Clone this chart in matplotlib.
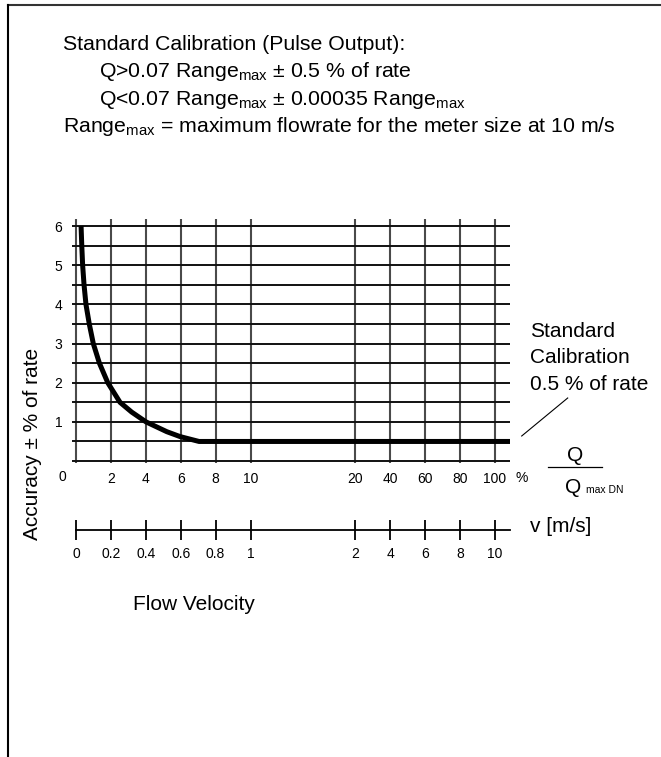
import numpy as np
import matplotlib
matplotlib.use("Agg")
import matplotlib.pyplot as plt
from matplotlib.lines import Line2D

plt.rcParams['font.family'] = ['Liberation Sans', 'DejaVu Sans']
plt.rcParams['mathtext.default'] = 'regular'

# ---------------- data ----------------
# accuracy curve: Q in % of Qmax DN, accuracy in ± % of rate
curve_q = [0.29, 0.33, 0.38, 0.46, 0.57, 0.76, 0.99, 1.34, 1.82, 2.52, 3.19, 4.01, 5.2, 5.96, 7.05, 108.7]
curve_acc = [6.0, 5.5, 5.0, 4.5, 4.0, 3.5, 3.0, 2.5, 2.0, 1.5, 1.25, 1.0, 0.75, 0.625, 0.5, 0.5]

q_ticks = [0, 2, 4, 6, 8, 10, 20, 40, 60, 80, 100]
q_labels = ['', '2', '4', '6', '8', '10', '20', '40', '60', '80', '100']
v_labels = ['0', '0.2', '0.4', '0.6', '0.8', '1', '2', '4', '6', '8', '10']
y_ticks = [0, 0.5, 1, 1.5, 2, 2.5, 3, 3.5, 4, 4.5, 5, 5.5, 6]
y_labels = ['', '', '1', '', '2', '', '3', '', '4', '', '5', '', '6']

header_lines = [
    "Standard Calibration (Pulse Output):",
    "Q>0.07 Range$_{max}$ ± 0.5 % of rate",
    "Q<0.07 Range$_{max}$ ± 0.00035 Range$_{max}$",
    "Range$_{max}$ = maximum flowrate for the meter size at 10 m/s",
]

W, H = 661, 757
fig = plt.figure(figsize=(W / 100, H / 100), dpi=100)


def fx(px):
    return px / W


def fy(py):
    return 1 - py / H


def fwd(q):
    q = np.asarray(q, dtype=float)
    return np.where(q <= 10, q, np.where(q <= 20, 10 + (q - 10) * 0.6, 14 + q / 10))


def inv(p):
    p = np.asarray(p, dtype=float)
    return np.where(p <= 10, p, np.where(p <= 16, 10 + (p - 10) / 0.6, (p - 14) * 10))


# ---------------- main axes ----------------
ax = fig.add_axes([fx(72), fy(463), fx(510) - fx(72), fy(219) - fy(463)])
ax.set_xscale('function', functions=(fwd, inv))
ax.set_xlim(-0.23, 108.7)
ax.set_ylim(-0.05, 6.18)
for s in ax.spines.values():
    s.set_visible(False)

for q in q_ticks:
    ax.axvline(q, color='#4a4a4a', lw=1.5, zorder=1)
for yv in y_ticks:
    ax.axhline(yv, color='#111111', lw=1.4, zorder=1)

ax.plot(curve_q, curve_acc, color='black', lw=3.6, solid_joinstyle='round',
        solid_capstyle='butt', zorder=3)

tfs = 10
ax.set_xticks(q_ticks)
ax.set_xticklabels(q_labels)
ax.set_xticks([], minor=True)
ax.set_yticks(y_ticks)
ax.set_yticklabels(y_labels)
ax.tick_params(axis='both', length=0, labelsize=tfs)
ax.tick_params(axis='x', pad=6.5)
ax.tick_params(axis='y', pad=7)

# ---------------- velocity axis ----------------
ax2 = fig.add_axes([fx(72), fy(530), fx(510) - fx(72), 0.02])
ax2.set_xscale('function', functions=(fwd, inv))
ax2.set_xlim(-0.23, 108.7)
ax2.patch.set_visible(False)
for k in ['top', 'left', 'right']:
    ax2.spines[k].set_visible(False)
ax2.spines['bottom'].set_bounds(0, 108.7)
ax2.spines['bottom'].set_linewidth(1.3)
ax2.set_yticks([])
ax2.set_xticks(q_ticks)
ax2.set_xticklabels(v_labels)
ax2.set_xticks([], minor=True)
ax2.tick_params(axis='x', direction='inout', length=14.4, width=1.3, pad=5, labelsize=tfs)

# ---------------- texts ----------------
fs = 15
hfs = 15.3
fig.text(fx(63), fy(50), header_lines[0], fontsize=hfs, va='baseline')
fig.text(fx(99), fy(76.7), header_lines[1], fontsize=hfs, va='baseline')
fig.text(fx(99), fy(105), header_lines[2], fontsize=hfs, va='baseline')
fig.text(fx(63), fy(131.7), header_lines[3], fontsize=hfs, va='baseline')

fig.text(fx(33), fy(444), "Accuracy ± % of rate", fontsize=fs, rotation=90,
         ha='center', va='center')
fig.text(fx(194), fy(605), "Flow Velocity", fontsize=fs, ha='center', va='center')

fig.text(fx(62.5), fy(477), "0", fontsize=tfs, ha='center', va='center')
fig.text(fx(515), fy(482), "%", fontsize=tfs, ha='left', va='baseline')

fig.text(fx(530), fy(336.7), "Standard", fontsize=fs, va='baseline')
fig.text(fx(530), fy(363), "Calibration", fontsize=fs, va='baseline')
fig.text(fx(530), fy(390), "0.5 % of rate", fontsize=fs, va='baseline')
fig.add_artist(Line2D([fx(521.7), fx(567.7)], [fy(436), fy(398)], color='black', lw=0.8))

fig.text(fx(575), fy(460.7), "Q", fontsize=fs, ha='center', va='baseline')
fig.add_artist(Line2D([fx(548), fx(602)], [fy(467), fy(467)], color='black', lw=0.9))
fig.text(fx(565), fy(493), "Q", fontsize=fs, ha='left', va='baseline')
fig.text(fx(585.7), fy(493), "max DN", fontsize=7.5, ha='left', va='baseline')

fig.text(fx(530), fy(532), "v [m/s]", fontsize=fs, ha='left', va='baseline')

# ---------------- frame ----------------
fig.add_artist(Line2D([fx(8.3), 1], [fy(4.8), fy(4.8)], color='#333333', lw=1.5))
fig.add_artist(Line2D([fx(8.3), fx(8.3)], [fy(4.8), 0], color='black', lw=1.5))

fig.savefig("out.png", dpi=100)
